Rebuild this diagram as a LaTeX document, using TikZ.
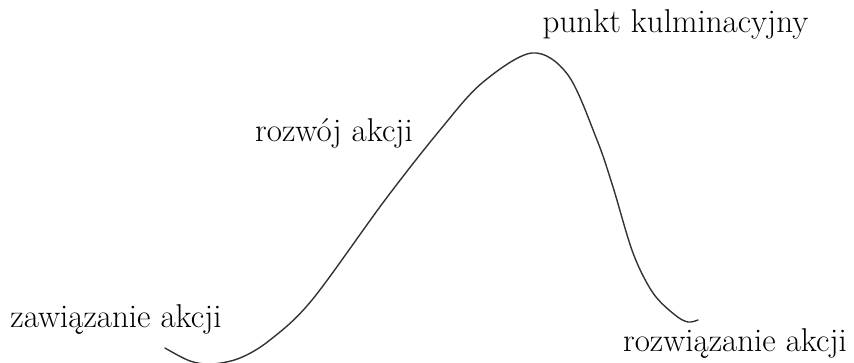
\documentclass[tikz,border=0pt]{standalone}
\begin{document}
\begin{tikzpicture}[x=1pt,y=-1pt,
  lbl/.style={inner sep=0pt,anchor=base,font=\fontsize{33}{40}\selectfont,text=black},
  arc/.style={line width=1.4pt,draw=black!80,line cap=round}]
\useasboundingbox (0,0) rectangle (854,363);
\node[lbl] (climax) at (675.5,33) {punkt kulminacyjny};
\node[lbl] (rising) at (334,142) {rozwój akcji};
\node[lbl] (expo) at (116,327) {zawiązanie akcji};
\node[lbl] (resol) at (735,352) {rozwiązanie akcji};
\draw[arc] plot[smooth,tension=0.55] coordinates {
 (165,348) (190,361) (212,364) (240,358) (270,340) (312,300) (385,200)
 (440,130) (482,83) (532,53) (568,75) (597,140) (613,187) (633,253)
 (653,293) (675,315) (688,322) (698,320)};
\end{tikzpicture}
\end{document}
